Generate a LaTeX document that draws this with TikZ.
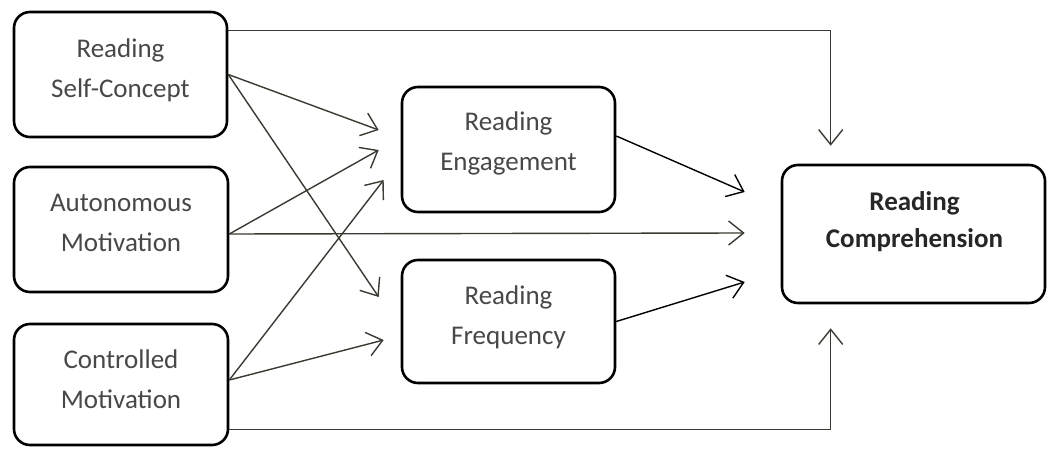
\documentclass[tikz,border=0pt]{standalone}
\usepackage{fontspec}
\setmainfont{Carlito}
\usetikzlibrary{arrows.meta,calc}
\definecolor{conn}{RGB}{58,58,50}
\definecolor{txtc}{RGB}{72,72,72}
\tikzset{
  box/.style={draw=black, line width=2.6pt, rounded corners=16pt, fill=white, inner sep=0pt},
  txt/.style={align=center, text=txtc, font=\fontsize{27}{40}\selectfont},
  btxt/.style={align=center, text=black!85, font=\fontsize{27}{37}\selectfont\bfseries},
  conarrow/.style={draw=conn, line width=1.4pt, -{Straight Barb[length=15pt,width=24pt,line width=1.4pt]}},
}
\begin{document}
\begin{tikzpicture}[x=1pt,y=-1pt]
\useasboundingbox (0,0) rectangle (1050,449);
% boxes
\node[box, minimum width=213pt, minimum height=125pt] (b1) at (120.5,74.5) {};
\node[box, minimum width=214pt, minimum height=125pt] (b2) at (121,229.5) {};
\node[box, minimum width=214pt, minimum height=121pt] (b3) at (121,384.5) {};
\node[box, minimum width=213pt, minimum height=125pt] (eng) at (508.5,149.5) {};
\node[box, minimum width=213pt, minimum height=123pt] (frq) at (508.5,321.5) {};
\node[box, minimum width=263pt, minimum height=138pt] (rc) at (913.5,234) {};
% texts
\node[txt] (t1) at ($(b1.center)+(0,-4)$) {Reading\\Self-Concept};
\node[txt] (t2) at ($(b2.center)+(0,-7)$) {Autonomous\\Motivation};
\node[txt] (t3) at ($(b3.center)+(0,-5)$) {Controlled\\Motivation};
\node[txt] (t4) at ($(eng.center)+(0,-6)$) {Reading\\Engagement};
\node[txt] (t5) at ($(frq.center)+(0,-4)$) {Reading\\Frequency};
\node[btxt] (t6) at ($(rc.center)+(1,-12)$) {Reading\\Comprehension};
% target coordinates
\coordinate (e1) at ($(eng.west)+(-22,-19.5)$);
\coordinate (e2) at ($(eng.west)+(-22,0.5)$);
\coordinate (e3) at ($(eng.west)+(-17,30.5)$);
\coordinate (f1) at ($(frq.west)+(-22,-24.5)$);
\coordinate (f2) at ($(frq.west)+(-17,18.5)$);
\coordinate (r1) at ($(rc.west)+(-36,-42)$);
\coordinate (r2) at ($(rc.west)+(-36,-1)$);
\coordinate (r3) at ($(rc.west)+(-36,48)$);
\coordinate (rt) at ($(rc.north west)+(50,-18)$);
\coordinate (rb) at ($(rc.south west)+(50,24)$);
% source coordinates
\coordinate (s1) at (b1.east);
\coordinate (s2) at ($(b2.east)+(0,4.5)$);
\coordinate (s3) at ($(b3.east)+(0,-4.5)$);
% connectors
\draw[conarrow] ($(b1.north east)+(0,20)$) -| (rt);
\draw[conarrow] ($(b3.south east)+(0,-17)$) -| (rb);
\draw[conarrow] (s1) -- (e1);
\draw[conarrow] (s1) -- (f1);
\draw[conarrow] (s2) -- (e2);
\draw[conarrow] (s2) -- (r2);
\draw[conarrow] (s3) -- (e3);
\draw[conarrow] (s3) -- (f2);
\draw[conarrow, draw=black] ($(eng.east)+(0,-13.5)$) -- (r1);
\draw[conarrow, draw=black] (frq.east) -- (r3);
\end{tikzpicture}
\end{document}
